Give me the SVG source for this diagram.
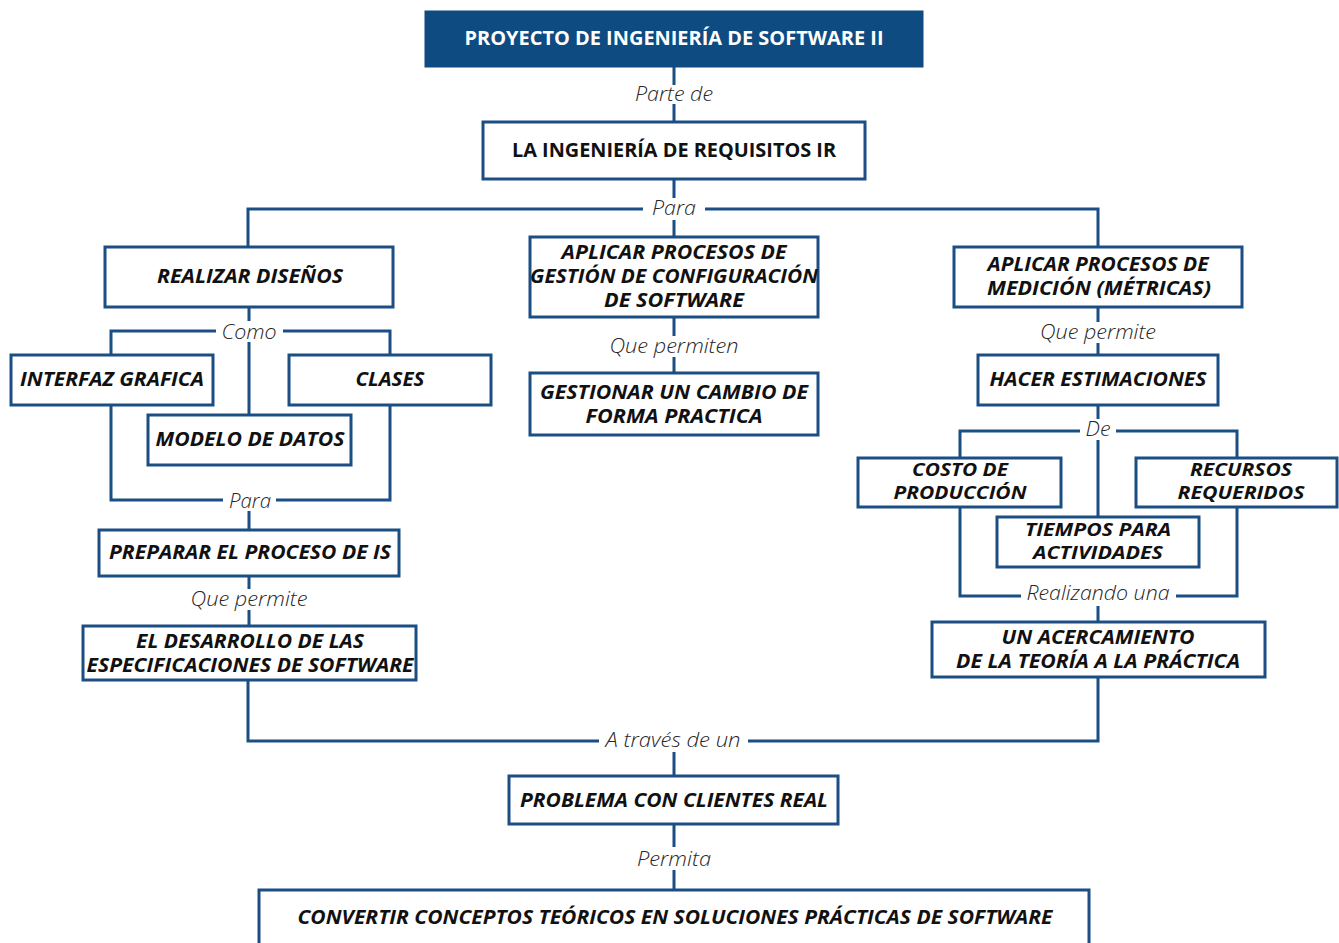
<svg xmlns="http://www.w3.org/2000/svg" width="1339" height="943" viewBox="0 0 1339 943">
<style>
.bg{fill:#fff}
.box{fill:#fff;stroke:#1b4f84;stroke-width:3}
.title{fill:#0e4b80;stroke:#0e4b80;stroke-width:1}
.conn{fill:none;stroke:#1b4f84;stroke-width:3}
.t{font-family:"Open Sans","Liberation Sans",sans-serif;font-weight:bold;font-style:italic;font-size:19px;fill:#111;text-anchor:middle}
.s{font-size:17px}
.u{font-style:normal}
.w{fill:#fff;font-style:normal}
.lbl{font-family:"Open Sans","Liberation Sans",sans-serif;font-weight:300;font-style:italic;font-size:20px;fill:#262626;text-anchor:middle}
</style>
<rect class="bg" x="0" y="0" width="1339" height="943"/>
<g id="connectors">
<path class="conn" d="M674 67 V85 M674 104 V122"/>
<path class="conn" d="M674 179 V198 M674 220 V237 M248 247 V209 H643 M705 209 H1098 V247"/>
<path class="conn" d="M674 317 V336 M674 357 V373"/>
<path class="conn" d="M1098 307 V322 M1098 343 V355"/>
<path class="conn" d="M1098 405 V419 M960 458 V431 H1080 M1116 431 H1237 V458 M1098 440 V517"/>
<path class="conn" d="M960 507 V596 H1021 M1176 596 H1237 V507 M1098 606 V622"/>
<path class="conn" d="M249 307 V321 M111 355 V331 H216 M283 331 H390 V355 M249 342 V415"/>
<path class="conn" d="M111 405 V500 H223 M276 500 H390 V405 M249 511 V530"/>
<path class="conn" d="M249 576 V589 M249 610 V626"/>
<path class="conn" d="M248 680 V741 H599 M748 741 H1098 V677 M674 752 V776"/>
<path class="conn" d="M674 824 V847 M674 870 V890"/>
<text class="lbl" x="674" y="101" textLength="78" lengthAdjust="spacingAndGlyphs">Parte de</text>
<text class="lbl" x="674" y="215" textLength="44" lengthAdjust="spacingAndGlyphs">Para</text>
<text class="lbl" x="674" y="353" textLength="129" lengthAdjust="spacingAndGlyphs">Que permiten</text>
<text class="lbl" x="1098" y="339" textLength="116" lengthAdjust="spacingAndGlyphs">Que permite</text>
<text class="lbl" x="1098" y="436" textLength="25" lengthAdjust="spacingAndGlyphs">De</text>
<text class="lbl" x="1098" y="600" textLength="143" lengthAdjust="spacingAndGlyphs">Realizando una</text>
<text class="lbl" x="249" y="339" textLength="55" lengthAdjust="spacingAndGlyphs">Como</text>
<text class="lbl" x="250" y="508" textLength="42" lengthAdjust="spacingAndGlyphs">Para</text>
<text class="lbl" x="249" y="606" textLength="117" lengthAdjust="spacingAndGlyphs">Que permite</text>
<text class="lbl" x="673" y="747" textLength="135" lengthAdjust="spacingAndGlyphs">A través de un</text>
<text class="lbl" x="674" y="866" textLength="74" lengthAdjust="spacingAndGlyphs">Permita</text>
</g>
<g id="n-title">
<rect class="title" x="425" y="11" width="498" height="56"/>
<text class="t w" x="674" y="45" textLength="419" lengthAdjust="spacingAndGlyphs" font-size="18">PROYECTO DE INGENIERÍA DE SOFTWARE II</text>
</g>
<g id="n-ir">
<rect class="box" x="483" y="122" width="382" height="57"/>
<text class="t u" x="674" y="157" textLength="324" lengthAdjust="spacingAndGlyphs" font-size="18">LA INGENIERÍA DE REQUISITOS IR</text>
</g>
<g id="n-disenos">
<rect class="box" x="105" y="247" width="288" height="60"/>
<text class="t" x="250" y="283" textLength="186" lengthAdjust="spacingAndGlyphs">REALIZAR DISEÑOS</text>
</g>
<g id="n-gestion">
<rect class="box" x="530" y="237" width="288" height="80"/>
<text class="t" x="674" y="259" textLength="225" lengthAdjust="spacingAndGlyphs">APLICAR PROCESOS DE</text>
<text class="t" x="674" y="283" textLength="288" lengthAdjust="spacingAndGlyphs">GESTIÓN DE CONFIGURACIÓN</text>
<text class="t" x="674" y="307" textLength="140" lengthAdjust="spacingAndGlyphs">DE SOFTWARE</text>
</g>
<g id="n-cambio">
<rect class="box" x="530" y="373" width="288" height="62"/>
<text class="t" x="674" y="399" textLength="268" lengthAdjust="spacingAndGlyphs">GESTIONAR UN CAMBIO DE</text>
<text class="t" x="674" y="423" textLength="177" lengthAdjust="spacingAndGlyphs">FORMA PRACTICA</text>
</g>
<g id="n-medicion">
<rect class="box" x="954" y="247" width="288" height="60"/>
<text class="t" x="1098" y="271" textLength="221" lengthAdjust="spacingAndGlyphs">APLICAR PROCESOS DE</text>
<text class="t" x="1099" y="295" textLength="224" lengthAdjust="spacingAndGlyphs">MEDICIÓN (MÉTRICAS)</text>
</g>
<g id="n-estimaciones">
<rect class="box" x="978" y="355" width="240" height="50"/>
<text class="t" x="1098" y="386" textLength="217" lengthAdjust="spacingAndGlyphs">HACER ESTIMACIONES</text>
</g>
<g id="n-costo">
<rect class="box" x="858" y="458" width="203" height="49"/>
<text class="t s" x="960" y="476" textLength="96" lengthAdjust="spacingAndGlyphs">COSTO DE</text>
<text class="t s" x="960" y="499" textLength="133" lengthAdjust="spacingAndGlyphs">PRODUCCIÓN</text>
</g>
<g id="n-recursos">
<rect class="box" x="1136" y="458" width="201" height="49"/>
<text class="t s" x="1241" y="476" textLength="102" lengthAdjust="spacingAndGlyphs">RECURSOS</text>
<text class="t s" x="1241" y="499" textLength="127" lengthAdjust="spacingAndGlyphs">REQUERIDOS</text>
</g>
<g id="n-tiempos">
<rect class="box" x="997" y="517" width="202" height="50"/>
<text class="t s" x="1098" y="536" textLength="146" lengthAdjust="spacingAndGlyphs">TIEMPOS PARA</text>
<text class="t s" x="1098" y="559" textLength="130" lengthAdjust="spacingAndGlyphs">ACTIVIDADES</text>
</g>
<g id="n-acercamiento">
<rect class="box" x="932" y="622" width="333" height="55"/>
<text class="t" x="1098" y="644" textLength="193" lengthAdjust="spacingAndGlyphs">UN ACERCAMIENTO</text>
<text class="t" x="1098" y="668" textLength="284" lengthAdjust="spacingAndGlyphs">DE LA TEORÍA A LA PRÁCTICA</text>
</g>
<g id="n-interfaz">
<rect class="box" x="11" y="355" width="202" height="50"/>
<text class="t" x="112" y="386" textLength="184" lengthAdjust="spacingAndGlyphs">INTERFAZ GRAFICA</text>
</g>
<g id="n-clases">
<rect class="box" x="289" y="355" width="202" height="50"/>
<text class="t" x="390" y="386" textLength="69" lengthAdjust="spacingAndGlyphs">CLASES</text>
</g>
<g id="n-modelo">
<rect class="box" x="148" y="415" width="203" height="50"/>
<text class="t" x="250" y="446" textLength="189" lengthAdjust="spacingAndGlyphs">MODELO DE DATOS</text>
</g>
<g id="n-preparar">
<rect class="box" x="99" y="530" width="300" height="46"/>
<text class="t" x="250" y="559" textLength="282" lengthAdjust="spacingAndGlyphs">PREPARAR EL PROCESO DE IS</text>
</g>
<g id="n-desarrollo">
<rect class="box" x="83" y="626" width="333" height="54"/>
<text class="t" x="250" y="648" textLength="228" lengthAdjust="spacingAndGlyphs">EL DESARROLLO DE LAS</text>
<text class="t" x="250" y="672" textLength="327" lengthAdjust="spacingAndGlyphs">ESPECIFICACIONES DE SOFTWARE</text>
</g>
<g id="n-problema">
<rect class="box" x="509" y="776" width="329" height="48"/>
<text class="t" x="674" y="807" textLength="308" lengthAdjust="spacingAndGlyphs">PROBLEMA CON CLIENTES REAL</text>
</g>
<g id="n-convertir">
<rect class="box" x="259" y="890" width="830" height="60"/>
<text class="t" x="675" y="924" textLength="755" lengthAdjust="spacingAndGlyphs">CONVERTIR CONCEPTOS TEÓRICOS EN SOLUCIONES PRÁCTICAS DE SOFTWARE</text>
</g>
</svg>
